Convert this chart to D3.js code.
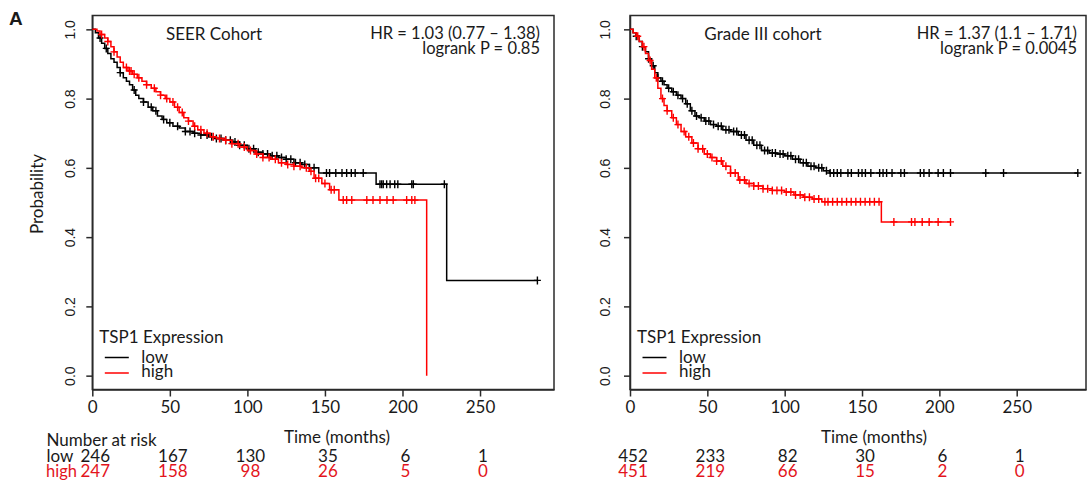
<!DOCTYPE html>
<html><head><meta charset="utf-8">
<script src="https://cdn.jsdelivr.net/npm/d3@7"></script>
<style>body{margin:0;background:#fff}svg{display:block}</style>
</head><body>
<script>
// ---------- DATA ----------
const xTicks = [0, 50, 100, 150, 200, 250];
const yTicks = [0, 0.2, 0.4, 0.6, 0.8, 1.0];
const yTickLabels = ["0.0", "0.2", "0.4", "0.6", "0.8", "1.0"];
const groups = ["low", "high"];

// SEER cohort
const seerLowT = [0,2,4,6,8,10,12,14,16,18,20,22,24,26,28,30,33,36,39,42,45,48,52,56,60,65,70,75,80,85,90,95,100,105,110,115,120,125,130,135,140,146,183,228.5];
const seerLowS = [1,0.99,0.975,0.96,0.945,0.93,0.915,0.905,0.89,0.875,0.86,0.85,0.84,0.825,0.81,0.80,0.79,0.775,0.765,0.75,0.74,0.73,0.72,0.715,0.705,0.70,0.695,0.69,0.685,0.68,0.675,0.665,0.655,0.645,0.64,0.635,0.63,0.625,0.615,0.61,0.60,0.585,0.553,0.275];
const seerLowCens = [5,9,18,27,33,38,41,46,50,55,60,63,66,70,74,77,80,83,86,89,92,95,98,101,104,107,110,113,116,119,122,125,128,131,134,137,140,143,151,153,157,161,164,167,169.5,174.7,185.5,186.6,187.6,189.8,192,195,197,206,207,227,287];
const seerHighT = [0,3,5,8,10,12,14,16,18,20,23,26,29,32,35,38,41,44,47,50,53,56,59,62,65,68,72,76,80,85,90,95,100,105,110,115,120,125,130,135,140,143,148,153,159,215.6];
const seerHighS = [1,0.995,0.985,0.975,0.965,0.95,0.935,0.92,0.905,0.89,0.88,0.87,0.86,0.85,0.84,0.83,0.82,0.81,0.80,0.79,0.775,0.76,0.745,0.735,0.72,0.71,0.70,0.69,0.685,0.68,0.67,0.66,0.65,0.64,0.63,0.625,0.615,0.61,0.605,0.60,0.59,0.57,0.555,0.537,0.507,0];
const seerHighCens = [6,10,14,22,24,25,27,30,35,40,44,48,52,55,58,62,66,70,74,78,82,86,90,94,98,102,106,110,114,118,122,126,130,134,138,141,144,146,150,154,156,161.8,164,167.3,177,181,185.5,190,194,202.7,206,208];
const seerRiskLow = [246, 167, 130, 35, 6, 1];
const seerRiskHigh = [247, 158, 98, 26, 5, 0];

// Grade III cohort
const gradeLowT = [0,2,4,6,8,10,12,14,16,18,20,22,24,27,30,33,36,39,42,45,48,52,56,60,65,70,75,80,85,90,95,100,105,110,115,120,125,129];
const gradeLowS = [1,0.99,0.98,0.965,0.95,0.935,0.915,0.895,0.875,0.86,0.85,0.84,0.83,0.82,0.81,0.80,0.785,0.765,0.75,0.745,0.735,0.725,0.72,0.71,0.705,0.695,0.68,0.665,0.65,0.643,0.64,0.635,0.625,0.615,0.605,0.60,0.592,0.585];
const gradeLowCens = [4,8,12,15,18,21,25,28,31,34,37,40,43,46,49,51,54,57,59,62,64,67,69,72,74,77,79,82,84,87,89,92,94,97,99,102,104,107,109,112,114,117,119,122,124,127,129.4,131.7,134,136.3,140.9,143.1,147.7,150,152.2,155.7,161.4,163.6,165.9,169.4,175.1,177.4,187.7,190,193.4,199.2,202.6,207.2,230,241.5,289.5];
const gradeHighT = [0,2,4,6,8,10,12,14,16,18,20,22,24,27,30,33,36,40,44,48,52,56,60,65,70,75,80,86,92,100,106,112,118,124,162.5];
const gradeHighS = [1,0.99,0.98,0.965,0.95,0.93,0.91,0.885,0.86,0.83,0.80,0.78,0.765,0.745,0.725,0.705,0.69,0.672,0.655,0.64,0.63,0.62,0.605,0.585,0.565,0.555,0.548,0.54,0.535,0.53,0.522,0.515,0.51,0.502,0.444];
const gradeHighCens = [5,9,13,17,21,24,28,31,35,38,41,44,47,50,53,56,59,62,65,68,71,74,77,80,83,86,89,92,95,98,101,104,107,110,113,116,119,122,126,128,131,134,137,140,143,146,149,152,155,158,161,170.6,182,184.2,188.9,193.4,199.2,207.2];
const gradeRiskLow = [452, 233, 82, 30, 6, 1];
const gradeRiskHigh = [451, 219, 66, 15, 2, 0];

// ---------- DRAW ----------
const W = 1092, H = 488;
const FONT = "Lato, 'Open Sans', sans-serif";
const TXT = "#1a1a1a", RED = "#ff0000", REDTXT = "#e3141c";
const svg = d3.select("body").append("svg").attr("width", W).attr("height", H)
  .style("background", "#fff");

svg.append("text").attr("x", 9).attr("y", 25).text("A")
  .attr("font-family", "'Liberation Sans', Arial, sans-serif").attr("font-weight", "bold")
  .attr("font-size", 19).attr("fill", TXT);

const y = d3.scaleLinear().domain([-0.04, 1.04]).range([389.5, 15.5]);

function drawPanel(o) {
  const x = d3.scaleLinear().domain([0, o.xMax]).range([o.left, o.right]);
  const g = svg.append("g");
  // box
  g.append("rect").attr("x", o.left).attr("y", y(1.04)).attr("width", o.right - o.left)
    .attr("height", y(-0.04) - y(1.04)).attr("fill", "none").attr("stroke", "#2a2a2a").attr("stroke-width", 1.5);
  // x axis
  const xa = g.append("g").attr("transform", `translate(0,${y(-0.04)})`)
    .call(d3.axisBottom(x).tickValues(xTicks).tickSize(7).tickSizeOuter(0).tickPadding(6));
  xa.select(".domain").attr("stroke", "#2a2a2a").attr("stroke-width", 1.5);
  xa.selectAll(".tick line").attr("stroke", "#2a2a2a").attr("stroke-width", 1.5);
  xa.selectAll(".tick text").attr("font-family", FONT).attr("font-size", 17).attr("fill", TXT).attr("dy", "0.62em");
  // y axis
  const ya = g.append("g").attr("transform", `translate(${o.left},0)`)
    .call(d3.axisLeft(y).tickValues(yTicks).tickSize(6).tickSizeOuter(0).tickFormat((d, i) => yTickLabels[i]));
  ya.select(".domain").attr("stroke", "#2a2a2a").attr("stroke-width", 1.5);
  ya.selectAll(".tick line").attr("stroke", "#2a2a2a").attr("stroke-width", 1.5);
  ya.selectAll(".tick text")
    .attr("font-family", "'Liberation Sans', Arial, sans-serif").attr("font-size", 14).attr("fill", TXT)
    .attr("x", null).attr("dy", null).attr("text-anchor", "middle")
    .attr("transform", `translate(${o.yLabX - o.left},0) rotate(-90)`).attr("dy", "0.35em");

  if (o.ylab) {
    g.append("text").attr("transform", `translate(37,194) rotate(-90)`).attr("text-anchor", "middle")
      .attr("dy", "0.35em").attr("font-family", FONT).attr("font-size", 17).attr("fill", TXT).text(o.ylab);
  }
  // curves
  const line = d3.line().curve(d3.curveStepAfter).x(d => x(d[0])).y(d => y(d[1]));
  o.series.forEach(s => {
    const pts = s.T.map((t, i) => [t, s.S[i]]);
    const lastT = s.T[s.T.length - 1];
    const maxC = d3.max(s.C);
    if (maxC > lastT) pts.push([maxC, s.S[s.S.length - 1]]);
    g.append("path").attr("d", line(pts)).attr("fill", "none").attr("stroke", s.color).attr("stroke-width", 1.5);
    const surv = t => s.S[Math.max(0, d3.bisectRight(s.T, t) - 1)];
    const cg = g.append("g").attr("stroke", s.color).attr("stroke-width", 1.4);
    s.C.forEach(t => {
      const cx = x(t), cy = y(surv(t));
      cg.append("path").attr("d", `M${cx - 3.5},${cy}H${cx + 3.5}M${cx},${cy - 4}V${cy + 4}`);
    });
  });
  // title & stats
  g.append("text").attr("x", o.titleX).attr("y", 39.5).attr("text-anchor", "middle")
    .attr("font-family", FONT).attr("font-size", 17).attr("fill", TXT).text(o.title);
  g.append("text").attr("x", o.statX).attr("y", 38.5).attr("text-anchor", "end")
    .attr("font-family", FONT).attr("font-size", 16.5).attr("fill", TXT).text(o.hr);
  g.append("text").attr("x", o.statX).attr("y", 54).attr("text-anchor", "end")
    .attr("font-family", FONT).attr("font-size", 16.5).attr("fill", TXT).text(o.p);
  // legend
  const lx = o.left;
  g.append("text").attr("x", lx + 7).attr("y", 342.5).attr("font-family", FONT).attr("font-size", 17)
    .attr("fill", TXT).text("TSP1 Expression");
  [["low", "#000", 357.5, 362.5], ["high", RED, 373, 377]].forEach(([lab, c, ly, ty]) => {
    g.append("line").attr("x1", lx + 12.5).attr("x2", lx + 36.5).attr("y1", ly).attr("y2", ly)
      .attr("stroke", c).attr("stroke-width", 1.5);
    g.append("text").attr("x", lx + 49).attr("y", ty).attr("font-family", FONT).attr("font-size", 17)
      .attr("fill", TXT).text(lab);
  });
  // xlabel
  g.append("text").attr("x", o.xlabX).attr("y", 443).attr("text-anchor", "middle")
    .attr("font-family", FONT).attr("font-size", 17).attr("fill", TXT).text("Time (months)");
  // risk table
  const rows = [[o.riskLow, TXT, 462], [o.riskHigh, REDTXT, 476.5]];
  rows.forEach(([vals, c, yy]) => {
    g.selectAll(null).data(vals).join("text")
      .attr("x", (d, i) => x(xTicks[i]) + 3).attr("y", yy).attr("text-anchor", "middle")
      .attr("font-family", FONT).attr("font-size", 17).attr("fill", c).text(d => d);
  });
  if (o.riskHeader) {
    g.append("text").attr("x", 46.5).attr("y", 446).attr("font-family", FONT).attr("font-size", 17)
      .attr("fill", TXT).text("Number at risk");
    g.append("text").attr("x", 46.5).attr("y", 462).attr("font-family", FONT).attr("font-size", 17)
      .attr("fill", TXT).text(groups[0]);
    g.append("text").attr("x", 46).attr("y", 476.5).attr("font-family", FONT).attr("font-size", 16.5)
      .attr("fill", REDTXT).text(groups[1]);
  }
}

drawPanel({
  left: 92.3, right: 554, xMax: 297.7, yLabX: 70, ylab: "Probability",
  title: "SEER Cohort", titleX: 214, hr: "HR = 1.03 (0.77 \u2013 1.38)", p: "logrank P = 0.85", statX: 540,
  xlabX: 337, riskHeader: true, riskLow: seerRiskLow, riskHigh: seerRiskHigh,
  series: [
    { T: seerLowT, S: seerLowS, C: seerLowCens, color: "#000" },
    { T: seerHighT, S: seerHighS, C: seerHighCens, color: RED }
  ]
});
drawPanel({
  left: 630, right: 1086, xMax: 294.8, yLabX: 605,
  title: "Grade III cohort", titleX: 763, hr: "HR = 1.37 (1.1 \u2013 1.71)", p: "logrank P = 0.0045", statX: 1077,
  xlabX: 874, riskHeader: false, riskLow: gradeRiskLow, riskHigh: gradeRiskHigh,
  series: [
    { T: gradeLowT, S: gradeLowS, C: gradeLowCens, color: "#000" },
    { T: gradeHighT, S: gradeHighS, C: gradeHighCens, color: RED }
  ]
});
</script>
</body></html>
